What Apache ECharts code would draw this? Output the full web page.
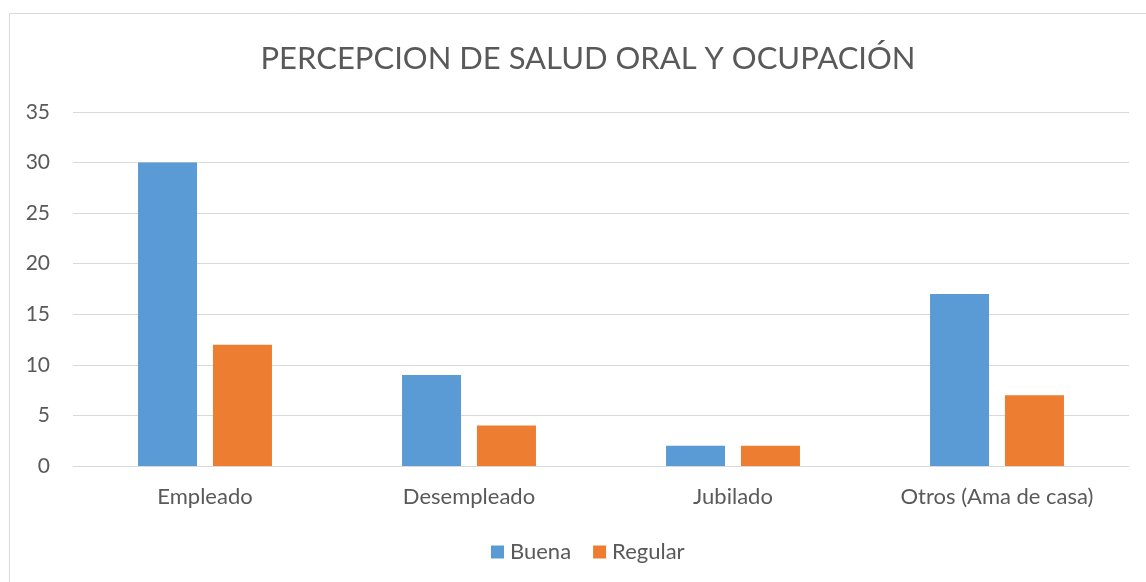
<!DOCTYPE html>
<html><head><meta charset="utf-8">
<script src="https://cdn.jsdelivr.net/npm/echarts@6/dist/echarts.min.js"></script>
<style>html,body{margin:0;padding:0;background:#fff}#c{width:1146px;height:582px}</style>
</head><body><div id="c"></div>
<script>
const categories = ['Empleado', 'Desempleado', 'Jubilado', 'Otros (Ama de casa)'];
const buena = [30, 9, 2, 17];
const regular = [12, 4, 2, 7];
const yTicks = {min: 0, max: 35, interval: 5};

const chart = echarts.init(document.getElementById('c'));
const font = 'Lato, "Open Sans", sans-serif';
chart.setOption({
  animation: false,
  graphic: [{type: 'rect', shape: {x: 9.5, y: 13.5, width: 1160, height: 600}, style: {fill: 'none', stroke: '#d9d9d9', lineWidth: 1}, silent: true}],
  title: {text: 'PERCEPCION DE SALUD ORAL Y OCUPACIÓN', left: 583, top: 38, textAlign: 'center',
    textStyle: {fontFamily: font, fontSize: 31, fontWeight: 'normal', color: '#595959'}},
  grid: {left: 73, right: 17, top: 112, bottom: 116, containLabel: false},
  legend: {bottom: 14, left: 486, itemWidth: 13, itemHeight: 13, itemGap: 22, icon: 'rect',
    textStyle: {fontFamily: font, fontSize: 22, color: '#595959', padding: [0,0,0,1]}},
  xAxis: {type: 'category', data: categories,
    axisLine: {lineStyle: {color: '#d9d9d9', width: 1}}, axisTick: {show: false},
    axisLabel: {fontFamily: font, fontSize: 22, color: '#595959', margin: 20}},
  yAxis: {type: 'value', min: yTicks.min, max: yTicks.max, interval: yTicks.interval,
    axisLine: {show: false}, axisTick: {show: false},
    splitLine: {lineStyle: {color: '#d9d9d9', width: 1}},
    axisLabel: {fontFamily: font, fontSize: 21, color: '#595959', margin: 23}},
  series: [
    {name: 'Buena', type: 'bar', data: buena, barWidth: 59, barGap: '27%', itemStyle: {color: '#5b9bd5'}},
    {name: 'Regular', type: 'bar', data: regular, barWidth: 59, barGap: '27%', itemStyle: {color: '#ed7d31'}}
  ]
});
</script></body></html>
